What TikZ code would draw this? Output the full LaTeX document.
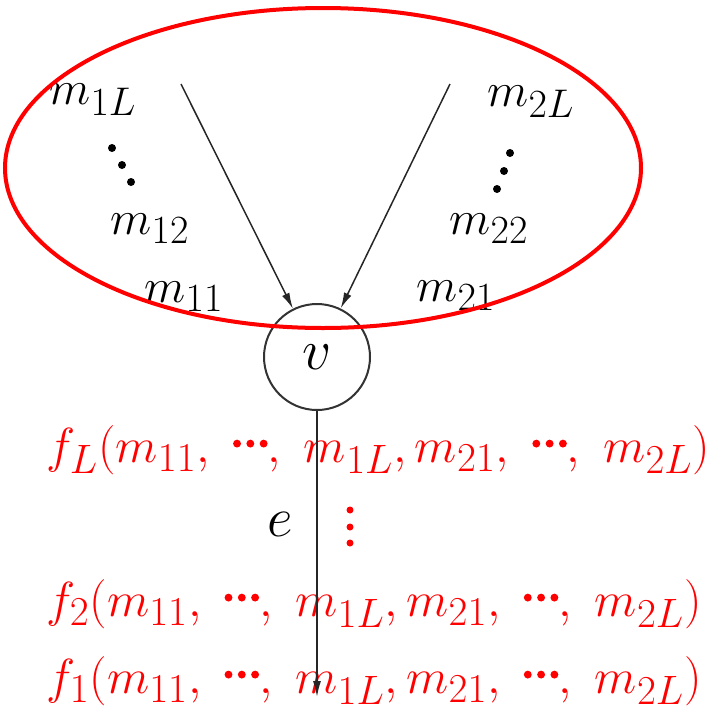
\documentclass[tikz,border=0pt]{standalone}
\usepackage{graphicx}
\usetikzlibrary{arrows.meta,positioning}

\newcommand{\mdots}{\tikz[baseline=0pt,x=1em,y=1em]{\foreach \i in {0,1,2} \fill (\i*0.27,0.38) circle[radius=0.08];}}
\newcommand{\fvals}[1]{\scalebox{1.98}{$f_{#1}(m_{11},\ \mdots,\ m_{1L},m_{21},\ \mdots,\ m_{2L})$}}
\newcommand{\mlab}[1]{\scalebox{1.93}{$#1$}}

\begin{document}
\begin{tikzpicture}[x=1pt,y=-1pt,font=\Huge,
  outlab/.style={red,anchor=west,inner sep=0pt},
  msg/.style={line width=1.5pt,black!85,-{Latex[length=16pt,width=8pt]}},
  vertex/.style={circle,draw=black!80,line width=2pt,minimum size=106pt,inner sep=0pt}]
\useasboundingbox (0,0) rectangle (724,710);
% --- vertex and its edges ---
\node[vertex] (v) at (317,357) {\scalebox{2.3}{$v$}};
\coordinate (in1) at (181,84);
\coordinate (in2) at (450,84);
\coordinate (out) at (317,697);
% incoming messages
\node (m1L) at (93,100) {\mlab{m_{1L}}};
\node (m12) at (150,229) {\mlab{m_{12}}};
\node (m11) at (184,297) {\mlab{m_{11}}};
\node (m2L) at (531,102) {\mlab{m_{2L}}};
\node (m22) at (489,229) {\mlab{m_{22}}};
\node (m21) at (456,296) {\mlab{m_{21}}};
\foreach \x/\y in {112/148,122/165,131/182,510/153,504/171,497/189}
  \fill (\x,\y) circle[radius=4];
% outgoing functions
\node[outlab] (fL) at (46,450) {\fvals{L}};
\node[outlab] (f2) at (46,604) {\fvals{2}};
\node[outlab] (f1) at (46,681) {\fvals{1}};
\foreach \y in {510,527,543}
  \fill[red] (350,\y) circle[radius=3.5];
\node (e) at (280,524) {\scalebox{2.25}{$e$}};
% arrows
\draw[msg] (in1) -- (v);
\draw[msg] (in2) -- (v);
\draw[msg] (v) -- (out);
% neighbourhood
\draw[red,line width=4pt] (323,168) ellipse [x radius=318, y radius=160];
\end{tikzpicture}
\end{document}
